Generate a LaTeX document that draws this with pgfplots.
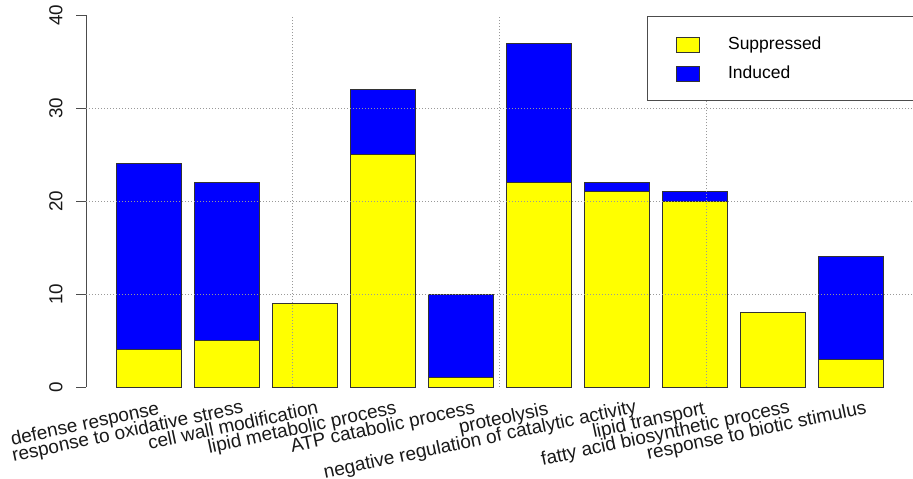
\documentclass[border=0pt]{standalone}
\usepackage{fontspec}
\setmainfont{Liberation Sans}
\usepackage{pgfplots}
\pgfplotsset{compat=1.18}
\definecolor{sup}{RGB}{255,255,0}
\definecolor{ind}{RGB}{0,0,255}
\begin{document}
\begin{tikzpicture}
\path[use as bounding box] (0,0) rectangle (456.5pt,239pt);
\begin{axis}[
  at={(43pt,45.5pt)}, anchor=south west,
  scale only axis, width=413.5pt, height=185.85pt,
  xmin=0.19, xmax=10.793, ymin=0, ymax=40,
  ybar stacked, bar width=32.5pt,
  axis y line*=left, axis x line*=bottom,
  x axis line style={draw=none},
  y axis line style={draw=black!70, line width=0.5pt, -},
  ytick={0,10,20,30,40},
  tick align=outside,
  major tick length=5pt,
  ytick style={draw=black!70, line width=0.5pt},
  xtick={1,2,3,4,5,6,7,8,9,10},
  xtick style={draw=none},
  xticklabels={{defense response\kern-0.5pt},{response to oxidative stress\kern-3.5pt},{cell wall modification\kern-2pt},{lipid metabolic process\kern-2.15pt},{ATP catabolic process\kern-2.3pt},{proteolysis},{negative regulation of catalytic activity\kern-5.15pt},{lipid transport\kern-0.3pt},{fatty acid biosynthetic process\kern-3.8pt},{response to biotic stimulus\kern-3.15pt}},
  xticklabel style={rotate=12, anchor=east, inner sep=0pt, text height=7pt, text depth=2pt, xshift=3.25pt, yshift=-7pt, font=\fontsize{9.5}{11}\selectfont, text=black!90},
  yticklabel style={rotate=90, anchor=south, inner sep=0pt, yshift=6.5pt, font=\fontsize{9.4}{11}\selectfont, text=black!90},
  /pgf/number format/assume math mode=true,
  legend style={at={(0.7134,0.9532)}, anchor=north west, draw=none, fill=none, inner sep=0pt,
    font=\fontsize{8.75}{10}\selectfont, row sep=2.7pt, cells={anchor=west},
    /tikz/every odd column/.append style={column sep=11.85pt}},
  legend cell align=left,
  legend image code/.code={\draw[#1, draw=black!80, line width=0.5pt] (0pt,-3.75pt) rectangle (11.5pt,3.75pt);},
]
\draw[black!40, line width=0.5pt, dash pattern=on 0.5pt off 1pt] (axis cs:0.19,10) -- (axis cs:10.793,10);
\draw[black!40, line width=0.5pt, dash pattern=on 0.5pt off 1pt] (axis cs:0.19,20) -- (axis cs:10.793,20);
\draw[black!40, line width=0.5pt, dash pattern=on 0.5pt off 1pt] (axis cs:0.19,30) -- (axis cs:10.793,30);
\draw[black!40, line width=0.5pt, dash pattern=on 0.5pt off 1pt] (axis cs:2.84,0) -- (axis cs:2.84,39.85);
\draw[black!40, line width=0.5pt, dash pattern=on 0.5pt off 1pt] (axis cs:5.497,0) -- (axis cs:5.497,39.85);
\draw[black!40, line width=0.5pt, dash pattern=on 0.5pt off 1pt] (axis cs:8.147,0) -- (axis cs:8.147,30.8);
\draw[black!70, line width=0.5pt, fill=white] (rel axis cs:0.6792,0.9981) rectangle (rel axis cs:1.05,0.7702);
\addplot[fill=sup, draw=black!80, line width=0.5pt] coordinates {(1,4) (2,5) (3,9) (4,25) (5,1) (6,22) (7,21) (8,20) (9,8) (10,3)};
\addlegendentry{Suppressed}
\addplot[fill=ind, draw=black!80, line width=0.5pt] coordinates {(1,20) (2,17) (3,0) (4,7) (5,9) (6,15) (7,1) (8,1) (9,0) (10,11)};
\addlegendentry{Induced}
\end{axis}
\end{tikzpicture}
\end{document}
